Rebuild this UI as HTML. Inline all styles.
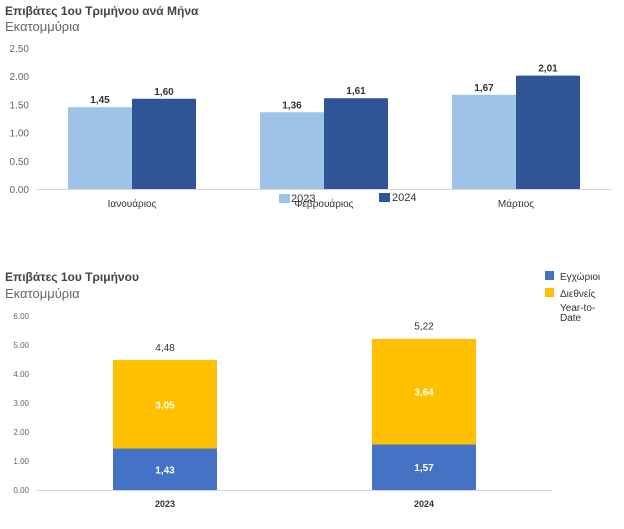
<!DOCTYPE html>
<html><head><meta charset="utf-8"><style>
body{margin:0;background:#fff;width:624px;height:529px;overflow:hidden;font-family:"Liberation Sans","DejaVu Sans",sans-serif}
svg{display:block}
</style></head><body>
<svg id="c" width="624" height="529">
<text x="5" y="15" font-size="12" font-weight="bold" fill="#444">Επιβάτες 1ου Τριμήνου ανά Μήνα</text>
<text x="5" y="31" font-size="13" fill="#666">Εκατομμύρια</text>
<text x="5" y="281" font-size="12" font-weight="bold" fill="#444">Επιβάτες 1ου Τριμήνου</text>
<text x="5" y="298" font-size="13" fill="#666">Εκατομμύρια</text>
<rect x="279" y="194" width="11" height="9" fill="#9dc3e6"/>
<text x="291" y="202" font-size="11" fill="#333">2023</text>
<rect x="379" y="193" width="11" height="9" fill="#2f5597"/>
<text x="392" y="201" font-size="11" fill="#333">2024</text>
<rect x="545" y="271" width="9" height="9" fill="#4472c4"/>
<text x="560" y="280" font-size="10" fill="#333">Εγχώριοι</text>
<rect x="545" y="288" width="9" height="9" fill="#ffc000"/>
<text x="560" y="297" font-size="10" fill="#333">Διεθνείς</text>
<text x="560" y="311" font-size="10" fill="#333">Year-to-</text>
<text x="560" y="321" font-size="10" fill="#333">Date</text>
</svg>
<script>
const months=["Ιανουάριος","Φεβρουάριος","Μάρτιος"];
const v2023=[1.45,1.36,1.67];
const v2024=[1.60,1.61,2.01];
const ticks1=["0.00","0.50","1.00","1.50","2.00","2.50"];
const years=["2023","2024"];
const domestic=[1.43,1.57];
const international=[3.05,3.64];
const totals=[4.48,5.22];
const ticks2=["0.00","1.00","2.00","3.00","4.00","5.00","6.00"];
const svg=document.getElementById('c');
const NS="http://www.w3.org/2000/svg";
function mk(t,a,txt){const e=document.createElementNS(NS,t);for(const k in a)e.setAttribute(k,a[k]);if(txt!==undefined)e.textContent=txt;svg.appendChild(e);return e;}
const fmt=v=>v.toFixed(2).replace('.',',');
// chart 1
const y1=v=>189-v*56.4;
const cx1=i=>132+i*192;
const bw1=64;
ticks1.forEach(t=>{const e=mk('text',{x:29,y:y1(+t)+4,'font-size':10,fill:'#666','text-anchor':'end'},t);

});
months.forEach((m,i)=>{
const a=mk('rect',{x:cx1(i)-bw1,y:y1(v2023[i]),width:bw1,height:189-y1(v2023[i]),fill:'#9dc3e6'});


const b=mk('rect',{x:cx1(i),y:y1(v2024[i]),width:bw1,height:189-y1(v2024[i]),fill:'#2f5597'});


const la=mk('text',{x:cx1(i)-bw1/2,y:y1(v2023[i])-4,'font-size':10,'font-weight':'bold',fill:'#333','text-anchor':'middle'},fmt(v2023[i]));


const lb=mk('text',{x:cx1(i)+bw1/2,y:y1(v2024[i])-4,'font-size':10,'font-weight':'bold',fill:'#333','text-anchor':'middle'},fmt(v2024[i]));


const c=mk('text',{x:cx1(i),y:207,'font-size':10,fill:'#333','text-anchor':'middle'},m);


});
const ax1=mk('line',{x1:36,x2:612,y1:189.5,y2:189.5,stroke:'#d9d9d9'});


// chart 2
const y2=v=>490-v*29;
const cx2=i=>165+i*259;
const bw2=104;
ticks2.forEach(t=>{const e=mk('text',{x:29,y:y2(+t)+3,'font-size':8,fill:'#666','text-anchor':'end'},t);

});
years.forEach((yr,i)=>{
const d=mk('rect',{x:cx2(i)-bw2/2,y:y2(domestic[i]),width:bw2,height:490-y2(domestic[i]),fill:'#4472c4'});


const top=domestic[i]+international[i];
const n=mk('rect',{x:cx2(i)-bw2/2,y:y2(top),width:bw2,height:y2(domestic[i])-y2(top),fill:'#ffc000'});


const ld=mk('text',{x:cx2(i),y:(y2(domestic[i])+490)/2+4,'font-size':10,'font-weight':'bold',fill:'#fff','text-anchor':'middle'},fmt(domestic[i]));


const li=mk('text',{x:cx2(i),y:(y2(domestic[i])+y2(top))/2+4,'font-size':10,'font-weight':'bold',fill:'#fff','text-anchor':'middle'},fmt(international[i]));


const lt=mk('text',{x:cx2(i),y:y2(totals[i])-9,'font-size':10,fill:'#333','text-anchor':'middle'},fmt(totals[i]));


const c=mk('text',{x:cx2(i),y:507,'font-size':9,'font-weight':'bold',fill:'#333','text-anchor':'middle'},yr);


});
const ax2=mk('line',{x1:36,x2:552,y1:490.5,y2:490.5,stroke:'#d9d9d9'});


</script>
</body></html>
